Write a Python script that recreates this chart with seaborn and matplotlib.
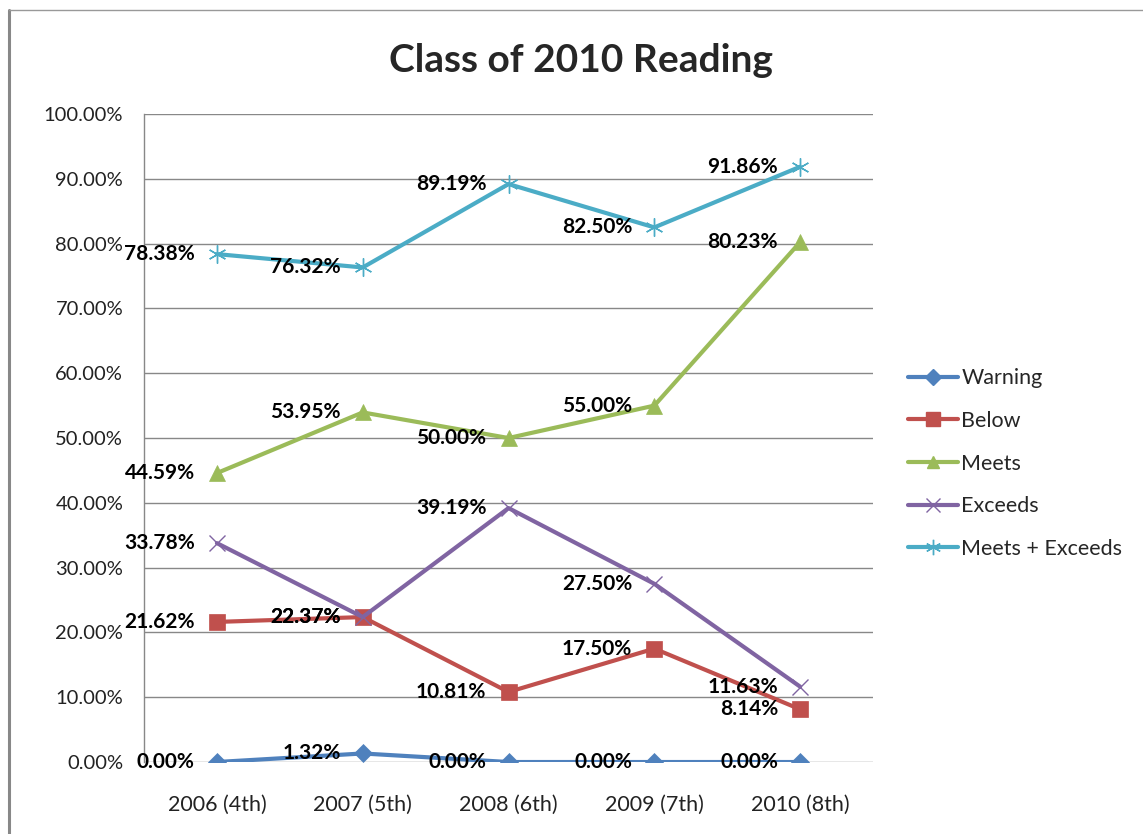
import matplotlib
matplotlib.use("Agg")
import matplotlib.pyplot as plt
import seaborn as sns
import pandas as pd
from matplotlib.lines import Line2D
from matplotlib.ticker import FuncFormatter

categories = ["2006 (4th)", "2007 (5th)", "2008 (6th)", "2009 (7th)", "2010 (8th)"]
warning = [0.00, 1.32, 0.00, 0.00, 0.00]
below = [21.62, 22.37, 10.81, 17.50, 8.14]
meets = [44.59, 53.95, 50.00, 55.00, 80.23]
exceeds = [33.78, 22.37, 39.19, 27.50, 11.63]
meets_exceeds = [78.38, 76.32, 89.19, 82.50, 91.86]
series_names = ["Warning", "Below", "Meets", "Exceeds", "Meets + Exceeds"]
series_values = [warning, below, meets, exceeds, meets_exceeds]
title = "Class of 2010 Reading"

colors = ["#4F81BD", "#C0504D", "#9BBB59", "#8064A2", "#4BACC6"]
markers = ["D", "s", "^", "x", (6, 2, 0)]
msizes = [9, 12, 11, 12, 13]

sns.set_theme(style="white")
plt.rcParams['font.family'] = ['Lato', 'DejaVu Sans']

rows = []
for name, vals in zip(series_names, series_values):
    for i, v in enumerate(vals):
        rows.append({"series": name, "x": i, "value": v})
df = pd.DataFrame(rows)

fig = plt.figure(figsize=(11.43, 8.34), dpi=100)
ax = fig.add_axes([0.126, 0.0863, 0.6378, 0.777])

for name, col, mk, ms in zip(series_names, colors, markers, msizes):
    sub = df[df["series"] == name]
    sns.lineplot(data=sub, x="x", y="value", ax=ax, color=col, linewidth=3,
                 marker=mk, markersize=ms, markeredgecolor=col,
                 markeredgewidth=1.0 if (mk == "x" or isinstance(mk, tuple)) else 0.5,
                 label=name, legend=False, zorder=3)

for name, vals in zip(series_names, series_values):
    for i, v in enumerate(vals):
        ax.annotate(f"{v:.2f}%", (i, v), xytext=(-16, 0), textcoords="offset points",
                    ha="right", va="center", fontsize=15, fontweight="bold",
                    color="black", zorder=5)

ax.set_xlim(-0.5, 4.5)
ax.set_ylim(0, 100)
ax.set_yticks(range(0, 101, 10))
ax.yaxis.set_major_formatter(FuncFormatter(lambda v, p: f"{v:.2f}%"))
ax.set_xticks(range(5))
ax.set_xticklabels(categories)
ax.set_xticks([0.5, 1.5, 2.5, 3.5], minor=True)
ax.tick_params(axis="x", which="major", length=0, pad=24, labelsize=15.5, colors="#222222")
ax.tick_params(axis="x", which="minor", length=8, color="#888888", direction="inout")
ax.tick_params(axis="y", which="major", length=6, color="#888888", labelsize=14.5,
               colors="#222222", pad=9, direction="out")
ax.grid(axis="y", color="#888888", linewidth=1)
ax.set_axisbelow(True)
for s in ["top", "right", "bottom"]:
    ax.spines[s].set_visible(False)
ax.spines["left"].set_color("#888888")
ax.spines["left"].set_linewidth(1)
ax.set_xlabel("")
ax.set_ylabel("")

handles = [Line2D([0], [0], color=c, lw=3, marker=m, markersize=s * 0.85,
                  markeredgecolor=c, markeredgewidth=1.0)
           for c, m, s in zip(colors, markers, msizes)]
fig.legend(handles, series_names, loc="center left", bbox_to_anchor=(0.7865, 0.4442),
           frameon=False, fontsize=15.5, handlelength=2.35, labelspacing=1.05,
           handletextpad=0.15, borderaxespad=0)

fig.text(0.508, 0.928, title, ha="center", va="center", fontsize=28, fontweight="bold")

fig.add_artist(Line2D([0.008, 0.008], [0, 0.988], transform=fig.transFigure, color="#888888", lw=2.2))
fig.add_artist(Line2D([0.008, 1.0], [0.988, 0.988], transform=fig.transFigure, color="#999999", lw=1))

fig.savefig("out.png", dpi=100)
